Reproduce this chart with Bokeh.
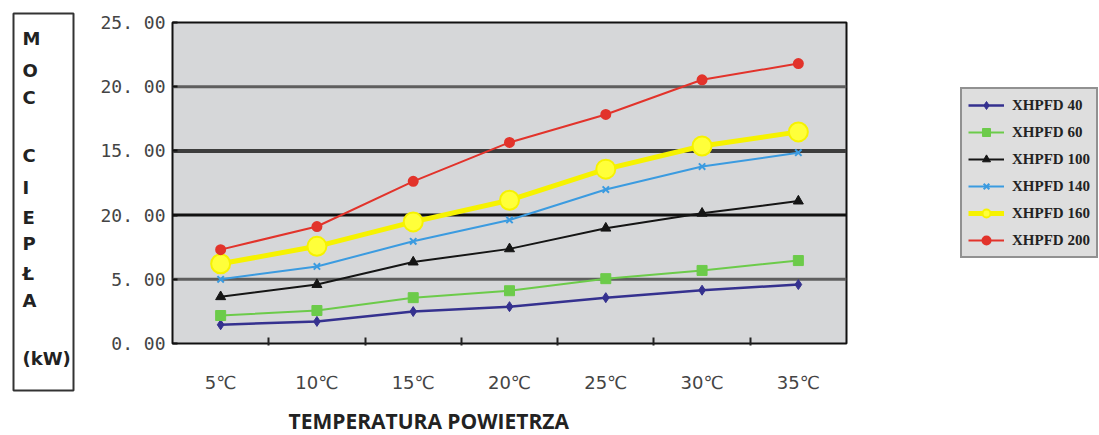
from bokeh.plotting import figure
from bokeh.layouts import row, column
from bokeh.models import (FixedTicker, Range1d, Span, Legend, LegendItem)
from bokeh.core.properties import value
from bokeh.embed import file_html
from bokeh.resources import INLINE

# ---------------- data ----------------
categories = ["5℃", "10℃", "15℃", "20℃", "25℃", "30℃", "35℃"]
xhpfd_40 = [1.46, 1.72, 2.49, 2.87, 3.57, 4.15, 4.59]
xhpfd_60 = [2.18, 2.57, 3.57, 4.11, 5.05, 5.69, 6.46]
xhpfd_100 = [3.64, 4.59, 6.34, 7.37, 8.98, 10.14, 11.09]
xhpfd_140 = [5.00, 6.00, 7.96, 9.62, 11.99, 13.78, 14.86]
xhpfd_160 = [6.21, 7.57, 9.47, 11.16, 13.58, 15.38, 16.48]
xhpfd_200 = [7.31, 9.11, 12.63, 15.66, 17.84, 20.54, 21.80]
series_names = ["XHPFD 40", "XHPFD 60", "XHPFD 100", "XHPFD 140", "XHPFD 160", "XHPFD 200"]
y_ticks = [0, 5, 10, 15, 20, 25]
y_tick_labels = ["0. 00", "5. 00", "20. 00", "15. 00", "20. 00", "25. 00"]
y_title_parts = ["M", "O", "C", "C", "I", "E", "P", "Ł", "A", "(kW)"]
x_title = "TEMPERATURA POWIETRZA"

series = [xhpfd_40, xhpfd_60, xhpfd_100, xhpfd_140, xhpfd_160, xhpfd_200]

# ---------------- styles ----------------
styles = [
    dict(color="#35318f", marker="diamond", size=10, lw=2.5, fill="#35318f"),
    dict(color="#6ccb4a", marker="square", size=10, lw=2, fill="#6ccb4a"),
    dict(color="#151515", marker="triangle", size=10, lw=2, fill="#151515"),
    dict(color="#3b9be0", marker="x", size=9, lw=2, fill="#3b9be0"),
    dict(color="#f6f200", marker="circle", size=19, lw=5, fill="#ffff3a"),
    dict(color="#e2332b", marker="circle", size=9, lw=2, fill="#e2332b"),
]

W, H = 1099, 435
TOP_H = 400          # height of the row holding the chart
LEFT_W = 80          # left panel (vertical title box)
LEG_X = 940          # start of legend panel
FL, FR, FT, FB = 172, 846, 22, 343


def blank_fig(width, height):
    f = figure(width=width, height=height, output_backend="svg", toolbar_location=None,
               x_range=Range1d(0, width), y_range=Range1d(height, 0),
               x_axis_location=None, y_axis_location=None,
               min_border_left=0, min_border_right=0,
               min_border_top=0, min_border_bottom=0)
    f.outline_line_color = None
    f.xgrid.visible = False
    f.ygrid.visible = False
    f.background_fill_color = "white"
    f.border_fill_color = "white"
    return f


# ---------------- left title box ----------------
pl = blank_fig(LEFT_W, TOP_H)
pl.quad(left=[13], right=[73], top=[13], bottom=[390], fill_color=None,
        line_color="#333333", line_width=2)
letter_y = [38, 70, 97, 155, 187, 217, 243, 273, 300, 358]
pl.text(x=[22] * len(y_title_parts), y=letter_y, text=y_title_parts,
        text_font=value("DejaVu Sans"), text_font_style="bold",
        text_font_size="18px", text_color="#222222",
        text_align="left", text_baseline="middle")

# ---------------- main chart ----------------
p = figure(width=LEG_X - LEFT_W, height=TOP_H, output_backend="svg", toolbar_location=None,
           x_range=Range1d(0.5, len(categories) + 0.5),
           y_range=Range1d(y_ticks[0], y_ticks[-1]),
           min_border_left=FL - LEFT_W, min_border_right=LEG_X - FR,
           min_border_top=FT, min_border_bottom=TOP_H - FB)
p.background_fill_color = "#d6d7d9"
p.border_fill_color = "white"
p.outline_line_color = "#111111"
p.outline_line_width = 2
p.xgrid.visible = False
p.ygrid.visible = False

xs = list(range(1, len(categories) + 1))

grid_style = {5: ("#5e5e5e", 3), 10: ("#111111", 3), 15: ("#3d3d3d", 4), 20: ("#5e5e5e", 3)}
for t in y_ticks[1:-1]:
    c, w = grid_style[t]
    p.add_layout(Span(location=t, dimension="width", line_color=c, line_width=w,
                      level="underlay"))

for vals, st in zip(series, styles):
    p.line(xs, vals, line_color=st["color"], line_width=st["lw"])
    p.scatter(xs, vals, marker=st["marker"], size=st["size"],
              fill_color=st["fill"], line_color=st["color"],
              line_width=2 if st["marker"] in ("x", "circle") else 1)

ya = p.yaxis[0]
ya.ticker = FixedTicker(ticks=y_ticks)
ya.major_label_overrides = {t: l for t, l in zip(y_ticks, y_tick_labels)}
ya.major_label_text_font = "DejaVu Sans Mono"
ya.major_label_text_font_size = "18px"
ya.major_label_text_color = "#444444"
ya.major_tick_in = 5
ya.major_tick_out = 0
ya.major_tick_line_width = 2
ya.major_tick_line_color = "#111111"
ya.minor_tick_line_color = None
ya.axis_line_color = None
ya.major_label_standoff = 7

xa = p.xaxis[0]
xa.ticker = FixedTicker(ticks=xs, minor_ticks=[x + 0.5 for x in xs[:-1]])
xa.major_label_overrides = {x: c for x, c in zip(xs, categories)}
xa.major_label_text_font = "DejaVu Sans"
xa.major_label_text_font_size = "18px"
xa.major_label_text_color = "#444444"
xa.major_tick_line_color = None
xa.minor_tick_in = 6
xa.minor_tick_out = 2
xa.minor_tick_line_width = 2
xa.minor_tick_line_color = "#222222"
xa.axis_line_color = None
xa.major_label_standoff = 22

# ---------------- legend panel ----------------
pg = blank_fig(W - LEG_X, TOP_H)
# legend proxies: same series, on a range far outside the visible panel
pg.extra_x_ranges = {"hidden": Range1d(-1000, -900)}
items = []
for name, vals, st in zip(series_names, series, styles):
    lr = pg.line(xs, vals, line_color=st["color"], line_width=st["lw"],
                 x_range_name="hidden")
    sr = pg.scatter(xs, vals, marker=st["marker"], size=st["size"],
                    fill_color=st["fill"], line_color=st["color"],
                    line_width=2 if st["marker"] in ("x", "circle") else 1,
                    x_range_name="hidden")
    items.append(LegendItem(label=name, renderers=[lr, sr]))

legend = Legend(items=items, location=(960 - LEG_X, TOP_H - 258),
                background_fill_color="#dedede", background_fill_alpha=1,
                border_line_color="#444444", border_line_width=2,
                label_text_font="Liberation Serif", label_text_font_style="bold",
                label_text_font_size="15px", label_text_color="#222222",
                glyph_width=36, glyph_height=20, label_height=20,
                spacing=7, padding=6, margin=0, label_standoff=8)
pg.add_layout(legend)

# ---------------- x-axis title strip ----------------
pt = blank_fig(W, H - TOP_H)
pt.text(x=[288], y=[20], text=[x_title], text_font=value("Open Sans"),
        text_font_style="bold", text_font_size="21px", text_color="#222222",
        text_align="left", text_baseline="middle")

layout = column(row(column(pl), p, column(pg), spacing=0), row(pt), spacing=0)
open("out.html", "w").write(file_html(layout, INLINE))
